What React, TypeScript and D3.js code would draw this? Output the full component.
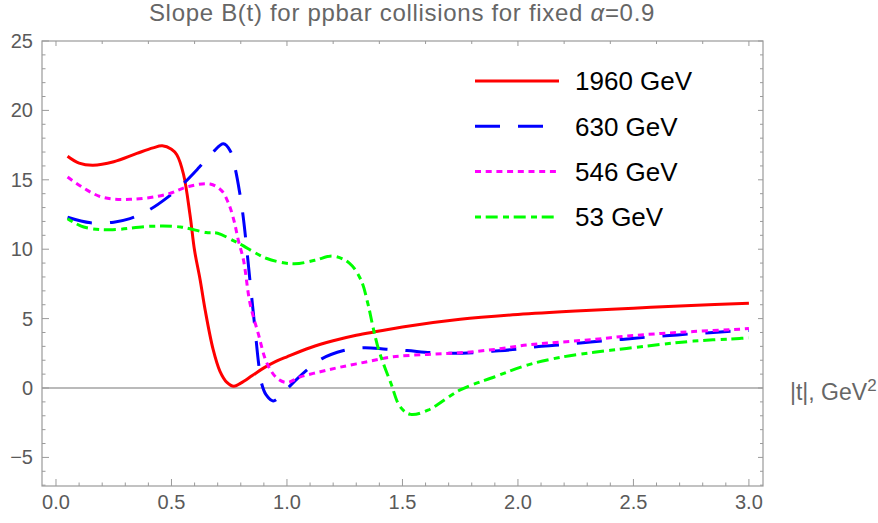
import * as d3 from "d3"

// |t| values and slopes B(t)
const t1960 = [0.05, 0.1, 0.16, 0.25, 0.35, 0.42, 0.46, 0.5, 0.523, 0.552, 0.58, 0.6, 0.624, 0.646, 0.68, 0.71, 0.74, 0.77, 0.8, 0.85, 0.9, 0.95, 1.0, 1.1, 1.2, 1.3, 1.4, 1.5, 1.75, 2.0, 2.25, 2.5, 2.75, 3.0]
const b1960 = [16.7, 16.2, 16.05, 16.3, 16.9, 17.3, 17.45, 17.2, 16.8, 15.4, 12.5, 9.9, 7.8, 5.6, 2.8, 1.2, 0.4, 0.12, 0.35, 0.9, 1.45, 1.9, 2.25, 2.9, 3.4, 3.8, 4.1, 4.4, 4.95, 5.3, 5.55, 5.75, 5.95, 6.1]

const t630 = [0.05, 0.15, 0.25, 0.32, 0.4, 0.48, 0.55, 0.62, 0.68, 0.725, 0.754, 0.776, 0.795, 0.81, 0.826, 0.84, 0.862, 0.877, 0.89, 0.91, 0.94, 0.97, 1.01, 1.087, 1.15, 1.245, 1.33, 1.43, 1.52, 1.62, 1.72, 1.81, 1.89, 2.0, 2.08, 2.18, 2.27, 2.37, 2.45, 2.55, 2.64, 2.75, 2.83, 2.93, 3.0]
const b630 = [12.3, 11.9, 11.95, 12.2, 12.8, 13.7, 14.7, 15.9, 17.0, 17.6, 17.1, 15.8, 14.1, 12.4, 10.0, 7.7, 4.2, 1.8, 0.34, -0.5, -0.93, -0.6, 0.1, 1.3, 2.1, 2.7, 2.9, 2.8, 2.7, 2.55, 2.5, 2.55, 2.65, 2.8, 2.97, 3.1, 3.25, 3.4, 3.5, 3.65, 3.76, 3.9, 3.98, 4.1, 4.15]

const t546 = [0.05, 0.19, 0.33, 0.48, 0.57, 0.667, 0.718, 0.747, 0.77, 0.79, 0.812, 0.84, 0.876, 0.913, 0.957, 1.0, 1.058, 1.144, 1.23, 1.35, 1.46, 1.61, 1.75, 1.9, 2.04, 2.18, 2.33, 2.47, 2.62, 2.76, 2.96, 3.0]
const b546 = [15.2, 13.8, 13.6, 13.96, 14.5, 14.7, 14.2, 13.3, 12.1, 10.6, 9.2, 6.1, 3.9, 1.8, 0.7, 0.4, 0.8, 1.17, 1.5, 1.9, 2.25, 2.42, 2.54, 2.78, 3.1, 3.3, 3.5, 3.74, 3.93, 4.07, 4.24, 4.28]

const t53 = [0.05, 0.12, 0.23, 0.41, 0.54, 0.65, 0.7, 0.77, 0.8, 0.91, 1.03, 1.12, 1.2, 1.27, 1.32, 1.35, 1.375, 1.4, 1.45, 1.49, 1.535, 1.61, 1.75, 1.9, 2.04, 2.18, 2.33, 2.47, 2.62, 2.76, 2.96, 3.0]
const b53 = [12.2, 11.6, 11.4, 11.65, 11.6, 11.2, 11.15, 10.6, 10.35, 9.35, 8.95, 9.2, 9.5, 9.0, 7.8, 6.1, 4.2, 2.6, 0.34, -1.35, -1.9, -1.6, -0.14, 0.81, 1.65, 2.2, 2.57, 2.85, 3.14, 3.38, 3.57, 3.62]

const seriesNames = ["1960 GeV", "630 GeV", "546 GeV", "53 GeV"]
const seriesT = [t1960, t630, t546, t53]
const seriesB = [b1960, b630, b546, b53]
const seriesColors = ["#ff0000", "#0000ff", "#ff00ff", "#00ff00"]
const seriesDash = ["none", "25 18", "6 4.7", "6 4.7 12 5.3"]

const xTicks = [0, 0.5, 1, 1.5, 2, 2.5, 3]
const xTickLabels = ["0.0", "0.5", "1.0", "1.5", "2.0", "2.5", "3.0"]
const yTicks = [-5, 0, 5, 10, 15, 20, 25]
const yTickLabels = ["\u22125", "0", "5", "10", "15", "20", "25"]

const W = 878
const H = 523
const frame = { left: 42, right: 763, top: 41, bottom: 486 }
const FONT = "Arial, 'Liberation Sans', Helvetica, sans-serif"

export default function App() {
  const x = d3.scaleLinear().domain([-0.0606, 3.061]).range([frame.left, frame.right])
  const y = d3.scaleLinear().domain([-7.06, 25]).range([frame.bottom, frame.top])

  const line = d3.line<[number, number]>()
    .x((d) => x(d[0]))
    .y((d) => y(d[1]))
    .curve(d3.curveCatmullRom.alpha(0.5))

  // minor tick positions
  const xMinor = d3.range(0, 31).map((i) => i / 10)
  const xTop = d3.range(0, 16).map((i) => i / 5)
  const yMinor = d3.range(-7, 26)

  const frameColor = "#9a9a9a"
  const labelColor = "#5a5a5a"

  return (
    <svg width={W} height={H} style={{ position: "absolute", left: 0, top: 0, display: "block", background: "#fff" }}>
      {/* title */}
      <text x={402} y={21} textAnchor="middle" fontFamily={FONT} fontSize={24} letterSpacing={0.7} fill="#666">
        Slope B(t) for ppbar collisions for fixed <tspan fontStyle="italic">α</tspan>=0.9
      </text>

      {/* zero axis line */}
      <line x1={frame.left} x2={frame.right} y1={y(0)} y2={y(0)} stroke="#777" strokeWidth={1.2} />

      {/* curves */}
      <g>
        {seriesT.map((ts, i) => (
          <path
            key={seriesNames[i]}
            d={line(ts.map((t, j) => [t, seriesB[i][j]] as [number, number])) || ""}
            fill="none"
            stroke={seriesColors[i]}
            strokeWidth={3}
            strokeDasharray={seriesDash[i]}
            strokeLinejoin="round"
          />
        ))}
      </g>

      {/* frame */}
      <rect x={frame.left} y={frame.top} width={frame.right - frame.left} height={frame.bottom - frame.top}
        fill="none" stroke={frameColor} strokeWidth={1.2} />

      {/* bottom ticks */}
      {xMinor.map((v) => {
        const major = Math.abs(v * 2 - Math.round(v * 2)) < 1e-6
        return <line key={"bx" + v} x1={x(v)} x2={x(v)} y1={frame.bottom} y2={frame.bottom - (major ? 7 : 3.5)} stroke={frameColor} />
      })}
      {/* top ticks */}
      {xTop.map((v) => {
        const major = Math.abs(v - Math.round(v)) < 1e-6
        return <line key={"tx" + v} x1={x(v)} x2={x(v)} y1={frame.top} y2={frame.top + (major ? 5 : 3)} stroke={frameColor} />
      })}
      {/* left / right ticks */}
      {yMinor.map((v) => {
        const major = v % 5 === 0
        return (
          <g key={"y" + v}>
            <line x1={frame.left} x2={frame.left + (major ? 7 : 3.5)} y1={y(v)} y2={y(v)} stroke={frameColor} />
            <line x1={frame.right} x2={frame.right - (major ? 5 : 3)} y1={y(v)} y2={y(v)} stroke={frameColor} />
          </g>
        )
      })}

      {/* tick labels */}
      {xTicks.map((v, i) => (
        <text key={"xl" + v} x={x(v)} y={509} textAnchor="middle" fontFamily={FONT} fontSize={20} fill={labelColor}>
          {xTickLabels[i]}
        </text>
      ))}
      {yTicks.map((v, i) => (
        <text key={"yl" + v} x={33} y={y(v)} dy="0.35em" textAnchor="end" fontFamily={FONT} fontSize={20} fill={labelColor}>
          {yTickLabels[i]}
        </text>
      ))}

      {/* axis label */}
      <text x={790} y={400} fontFamily={FONT} fontSize={23} fill="#666">
        |t|, GeV<tspan dy={-9} fontSize={17}>2</tspan>
      </text>

      {/* legend */}
      {seriesNames.map((name, i) => {
        const ly = 81 + i * 45.3
        return (
          <g key={"lg" + name}>
            <line x1={475} x2={559} y1={ly} y2={ly} stroke={seriesColors[i]} strokeWidth={3} strokeDasharray={seriesDash[i]} />
            <text x={575} y={ly} dy="0.36em" fontFamily={FONT} fontSize={26} fill="#000">{name}</text>
          </g>
        )
      })}
    </svg>
  )
}
